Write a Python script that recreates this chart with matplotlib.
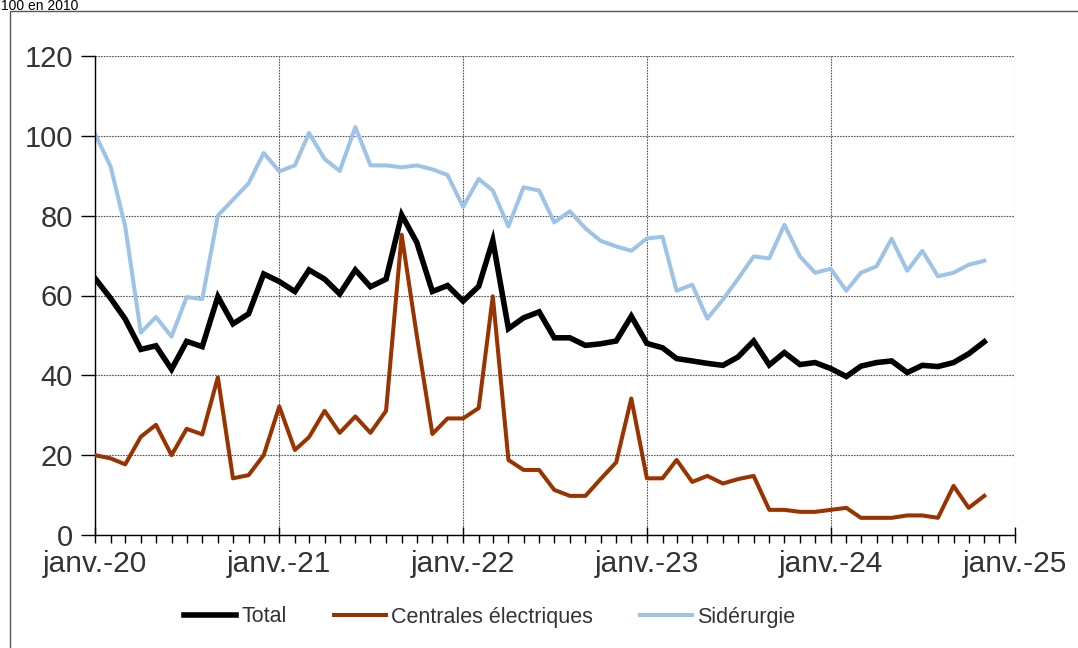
import numpy as np
import pandas as pd
import matplotlib
matplotlib.use("Agg")
import matplotlib.pyplot as plt
import matplotlib.dates as mdates
from matplotlib.patches import Rectangle

plt.rcParams['font.family'] = ['Liberation Sans', 'DejaVu Sans']

# indices mensuels, janv. 2020 -> nov. 2024
months = pd.date_range('2020-01-01', periods=59, freq='MS')

total = [64.3, 59.3, 54.1, 46.5, 47.4, 41.5, 48.5, 47.2, 59.7, 52.9, 55.4, 65.4,
         63.5, 61.0, 66.4, 64.1, 60.4, 66.4, 62.2, 64.1, 80.2, 73.3, 61.0, 62.5,
         58.6, 62.3, 73.8, 51.7, 54.4, 55.9, 49.4, 49.4, 47.5, 47.9, 48.6, 54.8,
         48.0, 46.9, 44.2, 43.6, 43.0, 42.5, 44.6, 48.6, 42.6, 45.7, 42.7, 43.2,
         41.7, 39.7, 42.3, 43.2, 43.6, 40.7, 42.5, 42.2, 43.2, 45.4, 48.4]

centrales = [20.0, 19.2, 17.7, 24.6, 27.6, 20.0, 26.6, 25.2, 39.5, 14.2, 15.0, 20.0,
             32.2, 21.3, 24.5, 31.1, 25.6, 29.7, 25.6, 31.1, 75.2, 50.0, 25.3, 29.2,
             29.2, 31.8, 59.8, 18.8, 16.3, 16.3, 11.3, 9.8, 9.8, 14.0, 18.2, 34.2,
             14.2, 14.2, 18.8, 13.3, 14.8, 12.9, 14.0, 14.8, 6.3, 6.3, 5.8, 5.8,
             6.3, 6.8, 4.3, 4.3, 4.3, 4.9, 4.9, 4.3, 12.3, 6.8, 9.8]

siderurgie = [100.5, 92.3, 77.3, 50.7, 54.6, 49.7, 59.6, 59.1, 80.0, 84.0, 88.1, 95.7,
              91.1, 92.6, 100.7, 94.2, 91.2, 102.2, 92.6, 92.6, 92.1, 92.6, 91.6, 90.2,
              82.2, 89.2, 86.3, 77.3, 87.1, 86.3, 78.3, 81.1, 76.8, 73.7, 72.3, 71.2,
              74.3, 74.7, 61.2, 62.7, 54.2, 59.0, 64.2, 69.8, 69.3, 77.7, 69.8, 65.7,
              66.7, 61.2, 65.7, 67.3, 74.2, 66.2, 71.2, 64.8, 65.7, 67.7, 68.7]

year_ticks = pd.date_range('2020-01-01', '2025-01-01', freq='YS')
year_labels = ['janv.-20', 'janv.-21', 'janv.-22', 'janv.-23', 'janv.-24', 'janv.-25']

W, H = 1078, 648
fig = plt.figure(figsize=(W / 100, H / 100), dpi=100)
ax = fig.add_axes([95 / W, 1 - 535 / H, (1015 - 95) / W, (535 - 56) / H])

ax.plot(months, total, color='black', lw=4.0, label='Total', zorder=4,
        solid_joinstyle='miter')
ax.plot(months, centrales, color='#993300', lw=2.9, label='Centrales électriques', zorder=3)
ax.plot(months, siderurgie, color='#9dc3e6', lw=2.9, label='Sidérurgie', zorder=2)

ax.set_xlim(year_ticks[0], year_ticks[-1])
ax.set_ylim(0, 120)
ax.set_yticks(np.arange(0, 121, 20))
ax.set_xticks(year_ticks)
ax.set_xticklabels(year_labels)
ax.xaxis.set_minor_locator(mdates.MonthLocator())

ax.grid(True, which='major', color='#555555', linestyle=(0, (1.5, 1.0)), linewidth=0.8)
for s in ['top', 'right']:
    ax.spines[s].set_visible(False)
for s in ['left', 'bottom']:
    ax.spines[s].set_color('black')
    ax.spines[s].set_linewidth(1.0)

ax.tick_params(axis='y', which='major', length=10, width=1, pad=6,
               labelsize=21, labelcolor='#333333', direction='out')
ax.tick_params(axis='x', which='major', length=12, width=1, pad=5,
               labelsize=21.5, labelcolor='#333333', direction='inout')
ax.tick_params(axis='x', which='minor', length=6, width=1, direction='out')

fig.legend(loc='center', bbox_to_anchor=(490 / W, 1 - 617 / H), ncol=3,
           frameon=False, fontsize=15.5, handlelength=2.4, handletextpad=0.25,
           columnspacing=2.2, labelcolor='#333333')

# cadre exterieur du graphique
fig.patches.append(Rectangle((10 / W, -0.1), 1.2, 1.1 - 11 / H, transform=fig.transFigure,
                             fill=False, edgecolor='#555555', linewidth=1.0))
fig.text(0.001, 1 - 10 / H, '100 en 2010', fontsize=10, color='black',
         ha='left', va='baseline')

fig.savefig('out.png', dpi=100)
